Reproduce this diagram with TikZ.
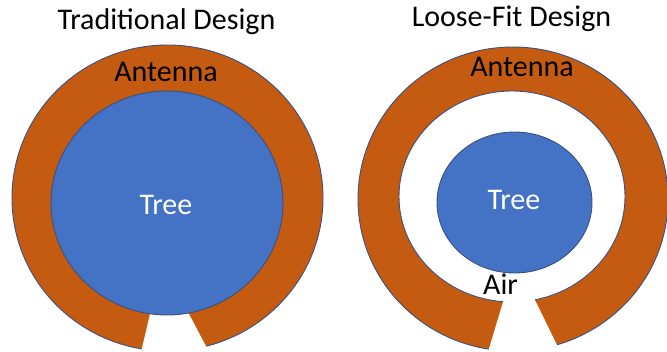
\documentclass[tikz,border=0pt]{standalone}
\usepackage{fontspec}
\setmainfont{Carlito}
\definecolor{ant}{HTML}{C55A11}
\definecolor{tree}{HTML}{4472C4}
\definecolor{edge}{HTML}{3A5180}
\begin{document}
\begin{tikzpicture}[x=1pt,y=-1pt,
  antfill/.style={fill=ant,draw=edge,line width=0.9pt},
  treefill/.style={fill=tree,draw=edge,line width=0.9pt},
  gapfill/.style={fill=white,draw=none},
  lbl/.style={anchor=base,inner sep=0pt,font=\fontsize{30}{36}\selectfont}]
\useasboundingbox (0,0) rectangle (667,352);
\clip (0,0) rectangle (667,352);
% Traditional design
\fill[white] (0,0) rectangle (667,352);
\draw[antfill] (167.5,198) ellipse [x radius=155.5pt, y radius=153pt];
\fill[gapfill] (150.9,310) -- (186.9,310) -- (213.3,360) -- (139.2,360) -- cycle;
\draw[treefill] (167,203) ellipse [x radius=116pt, y radius=112pt];
% Loose-fit design
\draw[antfill] (513,199) ellipse [x radius=155pt, y radius=152pt];
\draw[fill=white,draw=edge,line width=0.9pt] (512,196.5) ellipse [x radius=113pt, y radius=105.5pt];
\fill[gapfill] (506.6,290) -- (530.1,290) -- (564.3,360) -- (485.6,360) -- cycle;
\draw[treefill] (514.5,202.5) ellipse [x radius=77.5pt, y radius=70.5pt];
% labels
\node[lbl] (t1) at (166.5,30) {Traditional Design};
\node[lbl] (t2) at (511.5,27) {Loose-Fit Design};
\node[lbl] (a1) at (166,82) {Antenna};
\node[lbl] (a2) at (522,77) {Antenna};
\node[lbl,text=white] (tr1) at (166,215) {Tree};
\node[lbl,text=white] (tr2) at (514,210) {Tree};
\node[lbl] (air) at (500.5,295) {Air};
\end{tikzpicture}
\end{document}
